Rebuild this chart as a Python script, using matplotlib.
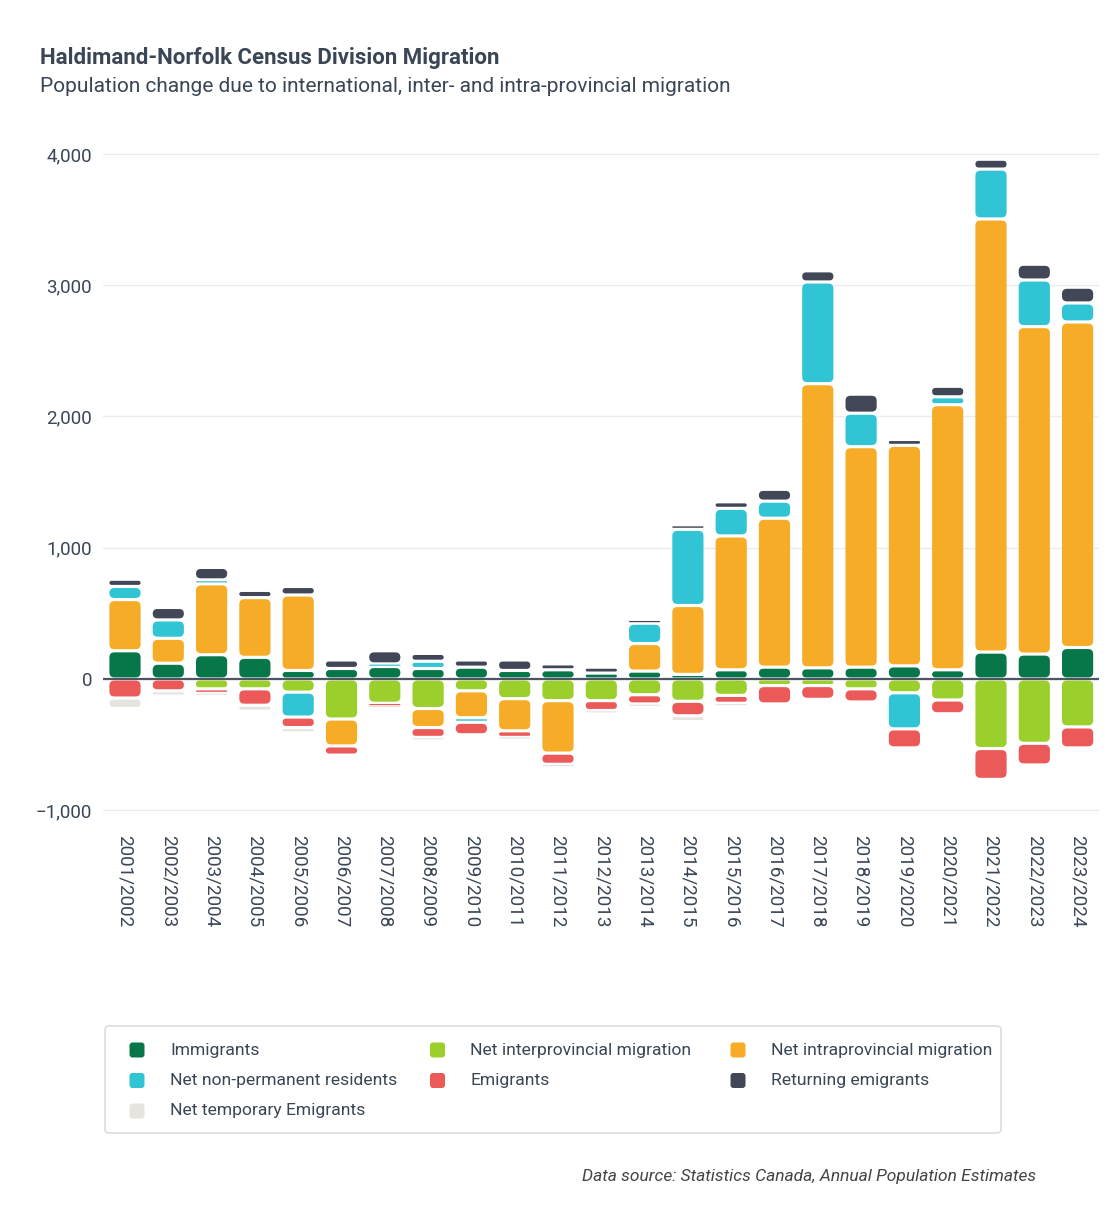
import matplotlib
matplotlib.use("Agg")
import matplotlib.pyplot as plt
from matplotlib.patches import FancyBboxPatch
from matplotlib.ticker import FuncFormatter

plt.rcParams["font.family"] = ["Roboto", "DejaVu Sans"]

years = [
    "2001/2002", "2002/2003", "2003/2004", "2004/2005", "2005/2006", "2006/2007",
    "2007/2008", "2008/2009", "2009/2010", "2010/2011", "2011/2012", "2012/2013",
    "2013/2014", "2014/2015", "2015/2016", "2016/2017", "2017/2018", "2018/2019",
    "2019/2020", "2020/2021", "2021/2022", "2022/2023", "2023/2024",
]
immigrants = [215, 120, 185, 165, 65, 80, 95, 80, 90, 65, 70, 45, 60, 35, 70, 90, 85, 90, 100, 70, 205, 190, 240]
interprovincial = [0, 0, -75, -75, -100, -305, -185, -225, -90, -150, -165, -165, -120, -170, -125, -50, -50, -75, -105, -160, -530, -490, -365]
intraprovincial = [390, 190, 540, 455, 575, -205, 0, -145, -205, -245, -400, 0, 210, 525, 1020, 1135, 2165, 1680, 1680, 2020, 3300, 2495, 2480]
non_permanent = [100, 140, 30, 0, -190, 0, 20, 55, -35, 0, 0, 0, 155, 580, 210, 130, 775, 255, -275, 60, 380, 355, 145]
emigrants = [-145, -90, -35, -125, -80, -70, -20, -75, -95, -50, -85, -75, -70, -110, -60, -140, -105, -100, -145, -105, -235, -165, -160]
returning = [55, 95, 95, 55, 65, 65, 100, 60, 55, 80, 45, 45, 25, 35, 50, 90, 85, 145, 45, 80, 75, 120, 120]
temporary = [-80, -40, -10, -45, -40, 0, -10, -20, 0, -10, -20, -20, -20, -45, -20, 0, 0, 0, 0, 0, 0, 0, 0]

series = [
    ("Immigrants", immigrants, "#07774a"),
    ("Net interprovincial migration", interprovincial, "#9bcf2c"),
    ("Net intraprovincial migration", intraprovincial, "#f6ac26"),
    ("Net non-permanent residents", non_permanent, "#30c4d4"),
    ("Emigrants", emigrants, "#ec5959"),
    ("Returning emigrants", returning, "#424758"),
    ("Net temporary Emigrants", temporary, "#e6e4df"),
]
legend_order = [0, 1, 2, 3, 4, 5, 6]

TEXT = "#3a4656"
W, H = 1120, 1213
fig = plt.figure(figsize=(W / 100, H / 100), dpi=100)

ymin, ymax = -1050, 4200
left, right = 103.35, 1099.25
top_px, bot_px = 127.75, 816.8
ax = fig.add_axes([left / W, 1 - bot_px / H, (right - left) / W, (bot_px - top_px) / H])
ax.set_xlim(-0.5, len(years) - 0.5)
ax.set_ylim(ymin, ymax)

x = list(range(len(years)))
pos_base = [0.0] * len(years)
neg_base = [0.0] * len(years)
bar_w = 0.72
gap = 24.0          # data units between stacked segments
min_h = 9.0
rx = 0.115          # corner radius in x data units
aspect = 330.0      # y units per x unit for the corner shape

for name, vals, color in series:
    bottoms = [pos_base[i] if v >= 0 else neg_base[i] for i, v in enumerate(vals)]
    bars = ax.bar(x, vals, bottom=bottoms, width=bar_w, color=color)
    for i, (rect, v) in enumerate(zip(bars, vals)):
        rect.remove()
        if v > 0:
            pos_base[i] += v
        elif v < 0:
            neg_base[i] += v
        else:
            continue
        x0, w = rect.get_x(), rect.get_width()
        y0 = min(rect.get_y(), rect.get_y() + rect.get_height())
        h = abs(rect.get_height())
        h_vis = max(h - gap, min_h)
        y_vis = y0 + (h - h_vis) / 2
        r = min(rx, w / 2, h_vis / aspect / 2)
        ax.add_patch(FancyBboxPatch(
            (x0, y_vis), w, h_vis,
            boxstyle=f"round,pad=0,rounding_size={r}",
            mutation_aspect=aspect, facecolor=color, edgecolor="none", zorder=3))

ax.axhline(0, color="#4d5563", lw=1.6, zorder=4)
ax.set_yticks([-1000, 0, 1000, 2000, 3000, 4000])
ax.yaxis.set_major_formatter(FuncFormatter(lambda v, _: f"{v:,.0f}".replace("-", "\u2212")))
ax.grid(axis="y", color="#ececec", lw=1, zorder=0)
ax.set_axisbelow(True)
ax.set_xticks(x)
ax.set_xticklabels(years, rotation=270, fontsize=13.6, color=TEXT)
ax.tick_params(axis="y", labelsize=13.5, labelcolor=TEXT, length=0, pad=8)
ax.tick_params(axis="x", length=0, pad=13)
for s in ax.spines.values():
    s.set_visible(False)

fig.text(40 / W, 1 - 58 / H, "Haldimand-Norfolk Census Division Migration",
         fontsize=16, fontweight="bold", color=TEXT, va="center")
fig.text(40 / W, 1 - 86 / H, "Population change due to international, inter- and intra-provincial migration",
         fontsize=15.05, color=TEXT, va="center")
fig.text(1036 / W, 1 - 1177 / H, "Data source: Statistics Canada, Annual Population Estimates",
         fontsize=12.55, style="italic", color="#444444", ha="right", va="center")

# legend drawn in a pixel-space helper axes
lx0, ly0, lx1, ly1 = 104, 1025, 1002, 1134
lax = fig.add_axes([lx0 / W, 1 - ly1 / H, (lx1 - lx0) / W, (ly1 - ly0) / H])
lax.set_xlim(lx0, lx1)
lax.set_ylim(ly1, ly0)
lax.axis("off")
lax.add_patch(FancyBboxPatch((lx0 + 1, ly0 + 1), lx1 - lx0 - 2, ly1 - ly0 - 2,
                             boxstyle="round,pad=0,rounding_size=4",
                             facecolor="white", edgecolor="#dddddd", lw=1.2))
for k, idx in enumerate(legend_order):
    name, _, color = series[idx]
    row, col = divmod(k, 3)
    cx = 137 + 300.5 * col
    cy = 1050 + 30.5 * row
    lax.add_patch(FancyBboxPatch((cx - 7.5, cy - 7.5), 15, 15,
                                 boxstyle="round,pad=0,rounding_size=3",
                                 facecolor=color, edgecolor="none"))
    lax.text(cx + 33, cy, name, fontsize=12.6, color=TEXT, va="center")

fig.savefig("out.png", dpi=100, facecolor="white")
